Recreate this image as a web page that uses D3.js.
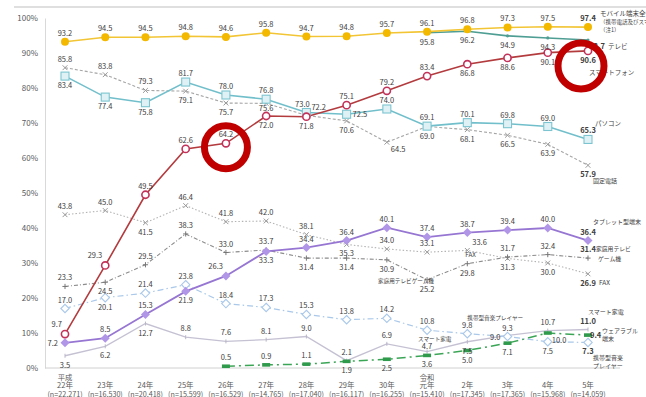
<!DOCTYPE html>
<html><head><meta charset="utf-8">
<script src="https://cdn.jsdelivr.net/npm/d3@7"></script>
<style>
html,body{margin:0;padding:0;background:#fff;overflow:hidden}
text{font-family:"Noto Sans CJK JP","Noto Sans",sans-serif}
</style></head>
<body><svg id="c" width="646" height="397"></svg>
<script>
// ---------- data ----------
const eras    = ["平成","","","","","","","","","令和","","","",""];
const years   = ["22年","23年","24年","25年","26年","27年","28年","29年","30年","元年","2年","3年","4年","5年"];
const samples = ["(n=22,271)","(n=16,530)","(n=20,418)","(n=15,599)","(n=16,529)","(n=14,765)","(n=17,040)","(n=16,117)","(n=16,255)","(n=15,410)","(n=17,345)","(n=17,365)","(n=15,968)","(n=14,059)"];
const yTicks  = [0,10,20,30,40,50,60,70,80,90,100];

const mobile     = [93.2,94.5,94.5,94.8,94.6,95.8,94.7,94.8,95.7,96.1,96.8,97.3,97.5,97.4];
const tv         = [null,null,null,null,null,null,null,null,null,95.8,96.2,94.9,94.3,93.7];
const smartphone = [9.7,29.3,49.5,62.6,64.2,72.0,71.8,75.1,79.2,83.4,86.8,88.6,90.1,90.6];
const pc         = [83.4,77.4,75.8,81.7,78.0,76.8,73.0,72.5,74.0,69.1,70.1,69.8,69.0,65.3];
const landline   = [85.8,83.8,79.3,79.1,75.7,75.6,72.2,70.6,64.5,69.0,68.1,66.5,63.9,57.9];
const tablet     = [7.2,8.5,15.3,21.9,26.3,33.3,34.4,36.4,40.1,37.4,38.7,39.4,40.0,36.4];
const gameConsole= [23.3,24.5,29.5,38.3,33.0,33.7,31.4,31.4,30.9,25.2,29.8,31.7,32.4,31.4];
const fax        = [43.8,45.0,41.5,46.4,41.8,42.0,38.1,35.3,34.0,33.1,33.6,31.3,30.0,26.9];
const musicPlayer= [17.0,20.1,21.4,23.8,18.4,17.3,15.3,13.8,14.2,10.8,9.8,9.0,7.5,7.3];
const smartHome  = [3.5,6.2,12.7,8.8,7.6,8.1,9.0,2.1,6.9,4.7,7.5,9.3,10.7,11.0];
const wearable   = [null,null,null,null,0.5,0.9,1.1,1.9,2.5,3.6,5.0,7.1,10.0,9.4];

// ---------- layout ----------
const svg = d3.select("#c");
const x = d3.scalePoint().domain(years).range([65,588]);
const y = d3.scaleLinear().domain([0,100]).range([368,18]);
const txt = "#404040";

// top rule
svg.append("line").attr("x1",14).attr("x2",646).attr("y1",7).attr("y2",7)
  .attr("stroke","#d4d4d4").attr("stroke-width",1.5);

// y axis
const ya = svg.append("g").attr("transform","translate(45,0)")
  .call(d3.axisLeft(y).tickValues(yTicks).tickFormat(d=>d+"%").tickSize(0).tickPadding(7));
ya.select(".domain").attr("stroke","#d9d9d9");
ya.selectAll("text").attr("font-size",8).attr("fill","#595959");

// x baseline
svg.append("line").attr("x1",45).attr("x2",620).attr("y1",y(0)).attr("y2",y(0))
  .attr("stroke","#d0d0d0").attr("stroke-width",1);

// x labels
const xl = svg.append("g").attr("fill","#595959").attr("text-anchor","middle");
years.forEach((yr,i)=>{
  const cx = x(yr);
  if(eras[i]) xl.append("text").attr("x",cx).attr("y",379.5).attr("font-size",7.3).text(eras[i]);
  xl.append("text").attr("x",cx).attr("y",388).attr("font-size",7.5).text(yr);
  xl.append("text").attr("x",cx).attr("y",396.5).attr("font-size",7.2).text(samples[i]);
});

// ---------- series ----------
const offs = {
  a:{dx:0,dy:-6,an:"middle"}, b:{dx:0,dy:12,an:"middle"},
  c:{dx:0,dy:8,an:"middle"}, A:{dx:0,dy:-3,an:"middle"},
  P:{dx:-4,dy:-6,an:"middle"}, q:{dx:0,dy:-4,an:"middle"},
  l:{dx:-7,dy:3,an:"end"}, r:{dx:6,dy:3,an:"start"}, s:{dx:2,dy:3,an:"start"},
  L:{dx:-3,dy:-7,an:"end"}, R:{dx:5,dy:-5,an:"start"},
  B:{dx:4,dy:10,an:"start"}, T:{dx:9,dy:9,an:"middle"}, n:null
};

function plusPath(s){return `M${-s},0H${s}M0,${-s}V${s}`;}
function xPath(s){return `M${-s},${-s}L${s},${s}M${-s},${s}L${s},${-s}`;}

const series = [
  {v:smartHome, color:"#c5c1d3", w:1.3, dash:null, mk:"tick", lab:"bbbaaaaaaAbqaa"},
  {v:wearable, color:"#3ba556", w:1.5, dash:"9,4,2,4", mk:"bar", lab:"nnnnaaabbbbbBs"},
  {v:musicPlayer, color:"#a9c8ea", w:1.2, dash:"6,3,1.5,3", mk:"odiamond", lab:"abaaaaaaaaalbb"},
  {v:fax, color:"#b3b3b3", w:1.1, dash:"1.5,2", mk:"x", lab:"aabaaaabaaRbbb"},
  {v:gameConsole, color:"#8c8c8c", w:1.1, dash:"4,2,1,2", mk:"plus", lab:"abaaaabbbbbaaa"},
  {v:tablet, color:"#9676d2", w:1.8, dash:null, mk:"diamond", lab:"laabLbaaaaaaaa"},
  {v:landline, color:"#a6a6a6", w:1.1, dash:"3,2", mk:"x", lab:"aaabbcRbBbbbbb"},
  {v:pc, color:"#71bfcb", w:1.6, dash:null, mk:"square", lab:"bbbaaaPraaaaaa"},
  {v:tv, color:"#4f9e94", w:1.6, dash:null, mk:"dot", lab:"nnnnnnnnnbbbbT"},
  {v:mobile, color:"#f2c535", w:1.6, dash:null, mk:"circle", lab:"aaaaaaaaaaaaaa"},
  {v:smartphone, color:"#b33b3e", w:1.6, dash:null, mk:"ocircle", lab:"LLaaabbaaabbbb"}
];

const line = d3.line().defined(d=>d.v!=null).x(d=>x(d.k)).y(d=>y(d.v));
const gl = svg.append("g"), gm = svg.append("g"), gt = svg.append("g").attr("font-size",7.5).attr("fill",txt);

series.forEach(s=>{
  const pts = s.v.map((v,i)=>({k:years[i],v}));
  gl.append("path").datum(pts).attr("d",line).attr("fill","none")
    .attr("stroke",s.color).attr("stroke-width",s.w)
    .attr("stroke-dasharray",s.dash);
  pts.forEach((p,i)=>{
    if(p.v==null) return;
    const px=x(p.k), py=y(p.v);
    const g = gm.append("g").attr("transform",`translate(${px},${py})`);
    switch(s.mk){
      case "circle": g.append("circle").attr("r",4).attr("fill","#f3b800"); break;
      case "ocircle": g.append("circle").attr("r",3.6).attr("fill","#fff").attr("stroke","#c2325a").attr("stroke-width",1.6); break;
      case "square": g.append("rect").attr("x",-4).attr("y",-4).attr("width",8).attr("height",8).attr("fill","#dff1f5").attr("stroke","#7cc5d0").attr("stroke-width",1.1); break;
      case "diamond": g.append("path").attr("d","M0,-4.5L4.5,0L0,4.5L-4.5,0Z").attr("fill","#b196e8"); break;
      case "odiamond": g.append("path").attr("d","M0,-4.2L4.2,0L0,4.2L-4.2,0Z").attr("fill","#fff").attr("stroke","#a9c8ea").attr("stroke-width",1.1); break;
      case "x": g.append("path").attr("d",xPath(2.4)).attr("stroke","#999").attr("stroke-width",1); break;
      case "plus": g.append("path").attr("d",plusPath(2.6)).attr("stroke","#777").attr("stroke-width",1); break;
      case "tick": g.append("path").attr("d","M0,-2V2").attr("stroke","#b9b5c8").attr("stroke-width",1); break;
      case "bar": g.append("rect").attr("x",-4).attr("y",-1.8).attr("width",8).attr("height",3.6).attr("fill","#2f9a4b"); break;
      case "dot": g.append("circle").attr("r",1.6).attr("fill","#4f9e94"); break;
    }
    const o = offs[s.lab[i]];
    if(!o) return;
    gt.append("text").attr("x",px+o.dx).attr("y",py+o.dy).attr("text-anchor",o.an)
      .attr("font-weight", i===13 ? "bold" : null).text(p.v.toFixed(1));
  });
});

// ---------- series names ----------
const last = x(years[13]);
const gn = svg.append("g").attr("fill",txt);
function nm(t,dx,yy,fs){gn.append("text").attr("x",last+dx).attr("y",yy).attr("font-size",fs||6).text(t);}
nm("モバイル端末全体",12,16,6.5);
nm("（携帯電話及びスマートフォン）",12,24,5.5);
nm("（注1）",12,32,5.5);
nm("テレビ",20,49,6.5);
nm("スマートフォン",1,75,6.5);
nm("パソコン",7,125.5,6.5);
nm("固定電話",5,182.5,6);
nm("タブレット型端末",5,223.5,6);
nm("家庭用テレビ",8,250.5,5.8);
nm("ゲーム機",10,260.5,5.8);
nm("FAX",11,284.5,6.5);
nm("スマート家電",0,313.5,6);
nm("ウェアラブル",14,333,6);
nm("端末",14,341,6);
nm("携帯型音楽",5,359.5,6);
nm("プレイヤー",5,367.5,6);

// inline annotations
const ga = svg.append("g").attr("fill",txt).attr("font-size",5.6);
ga.append("text").attr("x",x("元年")-49).attr("y",y(25.2)+3).text("家庭用テレビゲーム機");
ga.append("text").attr("x",x("2年")-2).attr("y",y(33.6)+7).attr("font-size",6.3).text("FAX");
ga.append("text").attr("x",x("2年")).attr("y",y(9.8)-13.5).text("携帯型音楽プレイヤー");
ga.append("text").attr("x",x("元年")-9).attr("y",y(4.7)-11).text("スマート家電");

// red highlight rings
const rings = [{k:"26年", v:smartphone[4], dx:0, dy:4, r:21.5},
               {k:"5年", v:smartphone[13], dx:-7, dy:15, r:23}];
svg.append("g").selectAll("circle").data(rings).join("circle")
  .attr("cx",d=>x(d.k)+d.dx).attr("cy",d=>y(d.v)+d.dy).attr("r",d=>d.r)
  .attr("fill","none").attr("stroke","#c00000").attr("stroke-width",7);
</script></body></html>
